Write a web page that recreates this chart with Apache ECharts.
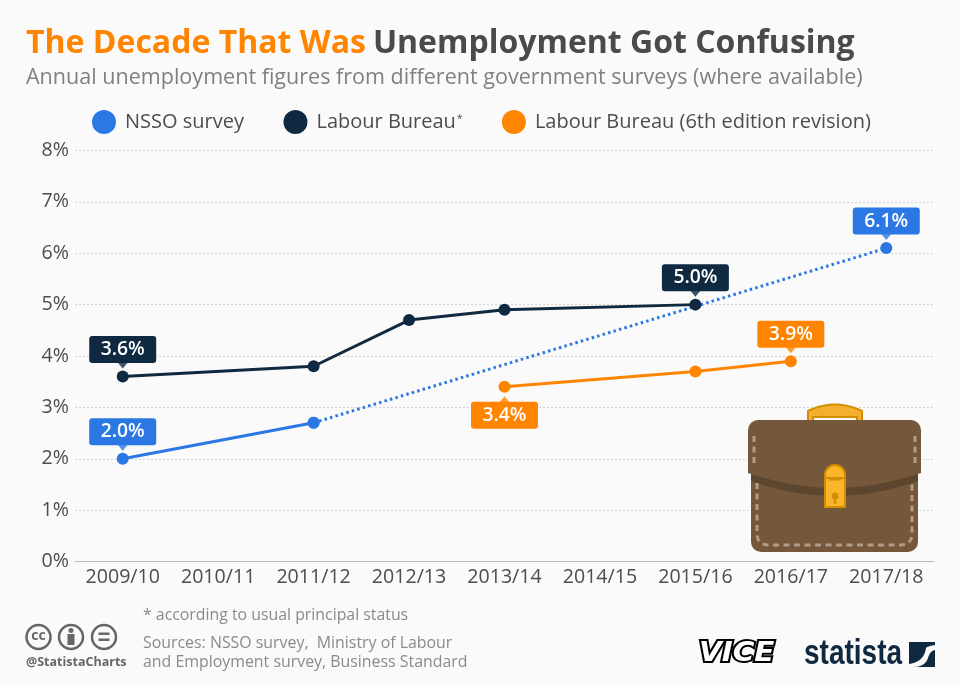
<!DOCTYPE html>
<html>
<head>
<meta charset="utf-8">
<title>The Decade That Was</title>
<script src="https://cdn.jsdelivr.net/npm/echarts@6/dist/echarts.min.js"></script>
<style>
  html, body { margin: 0; padding: 0; background: #fafafa; }
  #chart { width: 960px; height: 684px; }
</style>
</head>
<body>
<div id="chart"></div>
<script>
(function() {

  var categories = ['2009/10', '2010/11', '2011/12', '2012/13', '2013/14', '2014/15', '2015/16', '2016/17', '2017/18'];
  var yTicks = [0, 1, 2, 3, 4, 5, 6, 7, 8];

  var nssoSolid = [2.0, null, 2.7, null, null, null, null, null, null];
  var nssoDotted = [null, null, 2.7, null, null, null, null, null, 6.1];
  var labourBureau = [3.6, null, 3.8, 4.7, 4.9, null, 5.0, null, null];
  var labourRevised = [null, null, null, null, 3.4, null, 3.7, 3.9, null];

  // which points carry a value box
  var nssoLabelled = [0];
  var nssoDottedLabelled = [8];
  var labourLabelled = [0, 6];
  var revisedLabelledUp = [7];
  var revisedLabelledDown = [4];

  var BLUE = '#2b78e4';
  var NAVY = '#0f2a40';
  var ORANGE = '#ff8400';
  var FONT = '"Open Sans", sans-serif';

  var chart = echarts.init(document.getElementById('chart'));

  function boxLabel(color, pos) {
    return {
      show: true,
      position: pos,
      distance: pos === 'top' ? 7.5 : 9,
      formatter: function(p) { return p.value[1].toFixed(1) + '%'; },
      color: '#fff',
      fontFamily: FONT,
      fontSize: 19.3,
      fontWeight: 600,
      lineHeight: 19,
      backgroundColor: color,
      borderRadius: 3,
      padding: [4, 11.5, 4, 11.5]
    };
  }

  // line points, some of them with a value box
  function lineData(values, labelled, color, down) {
    var out = [];
    for (var i = 0; i < values.length; i++) {
      if (values[i] === null) { out.push([categories[i], null]); continue; }
      var item = { value: [categories[i], values[i]] };
      if (labelled.indexOf(i) >= 0) item.label = boxLabel(color, 'top');
      if (down && down.indexOf(i) >= 0) item.label = boxLabel(color, 'bottom');
      out.push(item);
    }
    return out;
  }

  function lineSeries(name, values, labelled, color, dotted, down) {
    return {
      name: name,
      type: 'line',
      data: lineData(values, labelled, color, down),
      connectNulls: true,
      showSymbol: true,
      symbol: 'circle',
      symbolSize: 12,
      animation: false,
      itemStyle: { color: color },
      lineStyle: { color: color, width: 3, type: dotted ? [2.5, 3.2] : 'solid' },
      label: { show: false },
      emphasis: { disabled: true },
      z: 3
    };
  }

  // small triangle joining a value box to its point
  function pointerSeries(name, values, idx, color, down) {
    return {
      name: name,
      type: 'scatter',
      data: idx.map(function(i) { return [categories[i], values[i]]; }),
      symbol: 'triangle',
      symbolSize: [10, 6],
      symbolRotate: down ? 0 : 180,
      symbolOffset: [0, down ? 12.5 : -11],
      itemStyle: { color: color },
      silent: true,
      animation: false,
      z: 4
    };
  }

  function txt(x, y, text, size, color, weight, extra) {
    var style = { x: x, y: y, text: text, fontSize: size, fontFamily: FONT, fontWeight: weight || 400, fill: color, textVerticalAlign: 'middle' };
    for (var k in (extra || {})) style[k] = extra[k];
    return { type: 'text', z: 20, silent: true, style: style };
  }

  function textBits() {
    return [
      txt(26, 78, 'Annual unemployment figures from different government surveys (where available)', 21.55, '#808080'),
      txt(143, 615, '* according to usual principal status', 15.85, '#8a8a8a'),
      txt(143, 643, 'Sources: NSSO survey,  Ministry of Labour', 15.9, '#8a8a8a'),
      txt(143, 662, 'and Employment survey, Business Standard', 15.9, '#8a8a8a')
    ];
  }

  function ccIcons() {
    var grey = '#666';
    function ring(cx) {
      return { type: 'circle', z: 20, silent: true, shape: { cx: cx, cy: 637, r: 12 }, style: { fill: 'none', stroke: grey, lineWidth: 2.5 } };
    }
    function bar(x, y, w, h) {
      return { type: 'rect', z: 20, silent: true, shape: { x: x, y: y, width: w, height: h }, style: { fill: grey } };
    }
    return [
      ring(38.5), ring(71), ring(104),
      txt(38.5, 636, 'cc', 14, grey, 700, { textAlign: 'center' }),
      { type: 'circle', z: 20, silent: true, shape: { cx: 71, cy: 630.5, r: 2.5 }, style: { fill: grey } },
      bar(67.5, 634, 7, 11),
      bar(98.5, 632.5, 11, 2.5),
      bar(98.5, 638.5, 11, 2.5),
      txt(26, 662, '@StatistaCharts', 12.5, '#666', 700)
    ];
  }

  function logos() {
    return [
      {
        type: 'text', z: 20, silent: true, x: 699, y: 654, scaleX: 1.09,
        style: { x: 0, y: 0, text: 'VICE', fontSize: 27, fontFamily: '"DejaVu Sans"', fontWeight: 700, fontStyle: 'italic', fill: '#fff', stroke: '#000', lineWidth: 4, textVerticalAlign: 'middle' }
      },
      {
        type: 'text', z: 20, silent: true, x: 804, y: 654, scaleX: 0.8,
        style: { x: 0, y: 0, text: 'statista', fontSize: 35, fontFamily: '"Liberation Sans"', fontWeight: 700, fill: '#0f2a40', textVerticalAlign: 'middle' }
      },
      { type: 'rect', z: 20, silent: true, shape: { x: 909, y: 642, width: 26, height: 25 }, style: { fill: '#0f2a40' } },
      {
        type: 'polygon', z: 21, silent: true,
        shape: { points: quad(909, 664, 924, 662, 926, 648).concat(quad(926, 648, 928, 646, 935, 645), [[935, 650]], quad(935, 650, 930, 651, 928, 658), quad(928, 658, 925, 667, 913, 667), [[909, 667]]) },
        style: { fill: '#fafafa' }
      }
    ];
  }

  // points along a quadratic curve, for the outlines of the drawn icons
  function quad(x0, y0, cx, cy, x1, y1) {
    var pts = [];
    for (var i = 0; i <= 16; i++) {
      var t = i / 16, u = 1 - t;
      pts.push([u * u * x0 + 2 * u * t * cx + t * t * x1, u * u * y0 + 2 * u * t * cy + t * t * y1]);
    }
    return pts;
  }

  function briefcase() {
    var brown = '#75583b', dark = '#5d4630', stitch = '#b09c88', gold = '#fbb52b', goldDark = '#d18f00';
    function el(type, s, style, z) {
      return { type: type, z: z || 12, silent: true, shape: s, style: style };
    }
    var line = { fill: 'none', stroke: stitch, lineWidth: 3, lineDash: [6, 4.5] };
    return [
      el('polygon', { points: [[808, 421]].concat(quad(808, 411, 835, 398, 862, 411), [[862, 421], [857, 421], [857, 417], [813, 417], [813, 421]]) }, { fill: '#f3b02e', stroke: goldDark, lineWidth: 2 }),
      el('rect', { x: 751, y: 440, width: 167, height: 112, r: 10 }, { fill: brown }),
      el('polygon', { points: quad(751, 473, 834, 503, 918, 473).concat(quad(918, 481, 834, 511, 751, 481)) }, { fill: dark }),
      el('rect', { x: 748, y: 420, width: 173, height: 30, r: [10, 10, 0, 0] }, { fill: brown }),
      el('polygon', { points: [[748, 445], [921, 445]].concat(quad(921, 473, 834, 502, 748, 473)) }, { fill: brown }),
      el('line', { x1: 754, y1: 436, x2: 754, y2: 466 }, line),
      el('line', { x1: 915, y1: 436, x2: 915, y2: 466 }, line),
      el('polyline', { points: [[757, 483]].concat(quad(757, 533, 757, 545, 769, 545), quad(900, 545, 912, 545, 912, 533), [[912, 483]]) }, line),
      el('circle', { cx: 835, cy: 475, r: 10 }, { fill: gold, stroke: goldDark, lineWidth: 2 }, 13),
      el('rect', { x: 825, y: 478, width: 20, height: 29 }, { fill: gold, stroke: goldDark, lineWidth: 2 }, 14),
      el('rect', { x: 829, y: 478, width: 12, height: 2.5 }, { fill: goldDark }, 15),
      el('circle', { cx: 835, cy: 496, r: 3.5 }, { fill: goldDark }, 15),
      el('rect', { x: 833.8, y: 497, width: 2.4, height: 7 }, { fill: goldDark }, 15)
    ];
  }

  var option = {
    backgroundColor: '#fafafa',
    animation: false,
    title: {
      left: 26,
      top: 23,
      padding: 0,
      text: '{a|The Decade That Was} {b|Unemployment Got Confusing}',
      textStyle: {
        rich: {
          a: { color: ORANGE, fontFamily: FONT, fontSize: 32, fontWeight: 700, lineHeight: 42 },
          b: { color: '#4a4a4a', fontFamily: FONT, fontSize: 32, fontWeight: 700, lineHeight: 42, padding: [0, 0, 0, 2] }
        }
      }
    },
    legend: {
      left: 92,
      top: 110,
      padding: 0,
      icon: 'circle',
      itemWidth: 24,
      itemHeight: 24,
      itemGap: 39.5,
      selectedMode: false,
      data: ['NSSO survey', 'Labour Bureau', 'Labour Bureau (6th edition revision)'],
      formatter: function(name) {
        return name === 'Labour Bureau' ? '{t|Labour Bureau}{s|*}' : '{t|' + name + '}';
      },
      textStyle: {
        rich: {
          t: { color: '#4d4d4d', fontFamily: FONT, fontSize: 20, lineHeight: 24, padding: [0, 0, 0, 4] },
          s: { color: '#4d4d4d', fontFamily: FONT, fontSize: 10, lineHeight: 24, padding: [0, 0, 6, 1] }
        }
      }
    },
    grid: { left: 75, right: 26, top: 150.5, bottom: 122.5 },
    xAxis: {
      type: 'category',
      data: categories,
      boundaryGap: true,
      axisLine: { lineStyle: { color: '#bbb', width: 1 } },
      axisTick: { show: false },
      axisLabel: { color: '#4d4d4d', fontFamily: FONT, fontSize: 19.6, margin: 6, interval: 0 }
    },
    yAxis: {
      type: 'value',
      min: yTicks[0],
      max: yTicks[yTicks.length - 1],
      interval: 1,
      axisLine: { show: false },
      axisTick: { show: false },
      axisLabel: { color: '#4d4d4d', fontFamily: FONT, fontSize: 19.6, margin: 6, padding: [2, 0, 0, 0], formatter: '{value}%' },
      splitLine: { lineStyle: { color: '#d4d4d4', type: [2, 2], width: 1 } }
    },
    series: [
      lineSeries('NSSO survey', nssoSolid, nssoLabelled, BLUE, false),
      lineSeries('NSSO trend', nssoDotted, nssoDottedLabelled, BLUE, true),
      lineSeries('Labour Bureau', labourBureau, labourLabelled, NAVY, false),
      lineSeries('Labour Bureau (6th edition revision)', labourRevised, revisedLabelledUp, ORANGE, false, revisedLabelledDown),
      pointerSeries('p1', nssoSolid, nssoLabelled, BLUE),
      pointerSeries('p2', nssoDotted, nssoDottedLabelled, BLUE),
      pointerSeries('p3', labourBureau, labourLabelled, NAVY),
      pointerSeries('p4', labourRevised, revisedLabelledUp, ORANGE),
      pointerSeries('p5', labourRevised, revisedLabelledDown, ORANGE, true)
    ],
    graphic: { elements: [].concat(textBits(), ccIcons(), logos(), briefcase()) }
  };

  chart.setOption(option);

})();
</script>
</body>
</html>
